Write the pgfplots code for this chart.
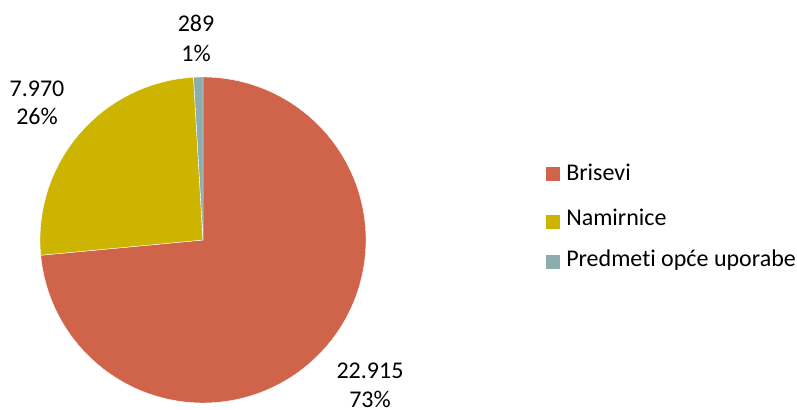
\documentclass[border=0pt]{standalone}
\usepackage{fontspec}
\setmainfont{Carlito}[Ligatures={NoCommon,NoContextual},RawFeature={-liga;-clig;-calt}]
\usepackage{pgfplots}
\pgfplotsset{compat=1.18}
\usepackage{pgfplotstable}
\definecolor{cA}{HTML}{D0644A}
\definecolor{cB}{HTML}{CCB400}
\definecolor{cC}{HTML}{8CACAE}
\pgfplotstableread{
name value
Brisevi 22915
Namirnice 7970
Predmeti 289
}\datatable
\begin{document}
\fontsize{18pt}{22pt}\selectfont
\begin{tikzpicture}[x=1pt,y=1pt]
\pgfplotstablegetelem{0}{value}\of\datatable \let\vA\pgfplotsretval
\pgfplotstablegetelem{1}{value}\of\datatable \let\vB\pgfplotsretval
\pgfplotstablegetelem{2}{value}\of\datatable \let\vC\pgfplotsretval
\edef\tot{\fpeval{\vA+\vB+\vC}}
\edef\eA{\fpeval{round(90-360*\vA/\tot,4)}}
\edef\eB{\fpeval{round(\eA-360*\vB/\tot,4)}}
\edef\eC{\fpeval{round(\eB-360*\vC/\tot,4)}}
\useasboundingbox (0,0) rectangle (597.75,307.5);
\begin{axis}[at={(152.25pt,127.5pt)}, anchor=center, scale only axis,
  width=244.5pt, height=244.5pt, xmin=-1, xmax=1, ymin=-1, ymax=1,
  hide axis, clip=false]
\addplot[fill=cA, draw=white, line width=0.3pt, domain=\eA:90, samples=150]
  ({cos(x)},{sin(x)}) -- (axis cs:0,0) -- cycle;
\addplot[fill=cB, draw=white, line width=0.3pt, domain=\eB:\eA, samples=60]
  ({cos(x)},{sin(x)}) -- (axis cs:0,0) -- cycle;
\addplot[fill=cC, draw=white, line width=0.3pt, domain=\eC:\eB, samples=5]
  ({cos(x)},{sin(x)}) -- (axis cs:0,0) -- cycle;
\end{axis}
% data labels
\node[anchor=base] at (147,283.5) {289};
\node[anchor=base] at (147,261) {1\%};
\node[anchor=base] at (27.75,234.75) {7.970};
\node[anchor=base] at (27.75,213.75) {26\%};
\node[anchor=base] at (277.5,23.5) {22.915};
\node[anchor=base] at (277.5,2) {73\%};
% legend
\fill[cA] (409.5,171.75) rectangle ++(10.5,10.5);
\fill[cB] (409.5,135.4) rectangle ++(10.5,10.5);
\fill[cC] (409.5,105.75) rectangle ++(10.5,10.5);
\node[anchor=base west, inner sep=0pt] at (424.5,171.75) {Brisevi};
\node[anchor=base west, inner sep=0pt] at (424.5,138) {Namirnice};
\node[anchor=base west, inner sep=0pt] at (424.5,107.5) {Predmet\kern0pt i opće uporabe};
\end{tikzpicture}
\end{document}
